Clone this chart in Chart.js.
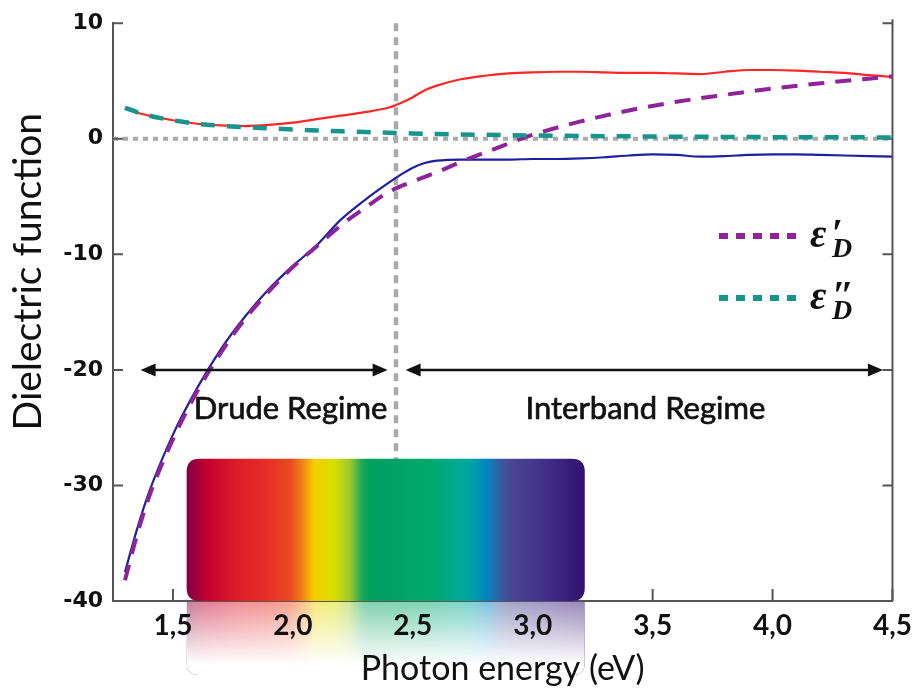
<!DOCTYPE html>
<html>
<head>
<meta charset="utf-8">
<script src="https://cdn.jsdelivr.net/npm/chart.js@4.4.1/dist/chart.umd.min.js"></script>
<style>
  html, body { margin: 0; padding: 0; background: #fff; }
</style>
</head>
<body>
<canvas id="chart" width="920" height="698"></canvas>
<script>
// Measured dielectric function (solid lines)
const energyExp = [1.30, 1.35, 1.40, 1.50, 1.60, 1.70, 1.80, 1.90, 2.00, 2.10, 2.20, 2.30, 2.40, 2.45, 2.50, 2.55, 2.60, 2.70, 2.80, 2.90,
                   3.00, 3.10, 3.20, 3.30, 3.40, 3.50, 3.60, 3.70, 3.80, 3.90, 4.00, 4.10, 4.20, 4.30, 4.40, 4.50];
const eps1Exp = [-37.5, -33.8, -30.6, -25.6, -21.6, -18.2, -15.4, -13.0, -11.0, -9.2, -7.0, -5.3, -3.8, -3.1, -2.5, -2.1, -1.9, -1.8, -1.8, -1.8,
                 -1.75, -1.75, -1.7, -1.6, -1.45, -1.35, -1.4, -1.55, -1.5, -1.4, -1.35, -1.35, -1.4, -1.45, -1.5, -1.55];
const eps2Exp = [2.6, 2.25, 2.0, 1.6, 1.3, 1.15, 1.1, 1.2, 1.4, 1.7, 2.0, 2.3, 2.7, 3.1, 3.6, 4.2, 4.6, 5.15, 5.45, 5.65,
                 5.75, 5.8, 5.8, 5.75, 5.7, 5.7, 5.65, 5.6, 5.8, 5.95, 5.95, 5.9, 5.8, 5.7, 5.5, 5.35];

// Drude model (dashed lines)
const energyDrude = [1.30, 1.35, 1.40, 1.50, 1.60, 1.70, 1.80, 1.90, 2.00, 2.10, 2.20, 2.30, 2.40, 2.50, 2.60, 2.70, 2.80, 2.90,
                     3.00, 3.20, 3.40, 3.60, 3.80, 4.00, 4.20, 4.40, 4.50];
const eps1Drude = [-38.2, -34.3, -31.0, -26.0, -21.9, -18.5, -15.6, -13.2, -11.1, -9.3, -7.5, -6.0, -4.6, -3.7, -2.9, -2.0, -1.2, -0.4,
                   0.35, 1.5, 2.45, 3.2, 3.8, 4.35, 4.8, 5.2, 5.4];
const eps2Drude = [2.7, 2.3, 2.0, 1.6, 1.3, 1.12, 1.0, 0.9, 0.8, 0.72, 0.65, 0.58, 0.52, 0.46, 0.41, 0.37, 0.34, 0.31,
                   0.28, 0.24, 0.21, 0.18, 0.16, 0.14, 0.13, 0.12, 0.11];

const xTicks = [1.5, 2.0, 2.5, 3.0, 3.5, 4.0, 4.5];
const yTicks = [10, 0, -10, -20, -30, -40];

// annotations
const regimeBoundary = 2.43;
const drudeArrow = [1.365, 2.395];
const interbandArrow = [2.47, 4.46];
const arrowLevel = -20;
const regimeNames = ['Drude Regime', 'Interband Regime'];
const regimeNameX = [1.99, 3.47];
const regimeNameY = -23.4;
const spectrumEnergy = [1.557, 3.217];
const spectrumTop = -27.7;
const yTitle = 'Dielectric function';
const yTitleCenter = -11.5;   // the label sits a bit above the axis middle

const AXIS = '#555';
const zip = (xs, ys) => xs.map((x, i) => ({ x: x, y: ys[i] }));

function roundedPath(ctx, x0, y0, x1, y1, r) {
    ctx.beginPath();
    ctx.moveTo(x0 + r, y0);
    ctx.lineTo(x1 - r, y0);
    ctx.quadraticCurveTo(x1, y0, x1, y0 + r);
    ctx.lineTo(x1, y1 - r);
    ctx.quadraticCurveTo(x1, y1, x1 - r, y1);
    ctx.lineTo(x0 + r, y1);
    ctx.quadraticCurveTo(x0, y1, x0, y1 - r);
    ctx.lineTo(x0, y0 + r);
    ctx.quadraticCurveTo(x0, y0, x0 + r, y0);
    ctx.closePath();
}

function spectrumGradient(ctx, x0, x1) {
    const g = ctx.createLinearGradient(x0, 0, x1, 0);
    const stops = [
        [0, '#7e0040'], [0.05, '#c4002f'], [0.125, '#dc1c2a'], [0.2, '#e62e28'], [0.26, '#ea4a20'],
        [0.29, '#f08018'], [0.32, '#f4d000'], [0.37, '#d8de00'], [0.41, '#9cca30'], [0.44, '#20a858'],
        [0.46, '#00a060'], [0.62, '#00a86e'], [0.68, '#00aa90'], [0.72, '#00a0a8'], [0.75, '#0088c0'],
        [0.79, '#3a5aa0'], [0.82, '#4a4490'], [0.9, '#40308a'], [1, '#340f6e']
    ];
    stops.forEach(s => g.addColorStop(s[0], s[1]));
    return g;
}

function arrow(ctx, x0, x1, y) {
    const head = 15, half = 6.5;
    ctx.beginPath();
    ctx.moveTo(x0 + head - 2, y);
    ctx.lineTo(x1 - head + 2, y);
    ctx.stroke();
    ctx.beginPath();
    ctx.moveTo(x0, y); ctx.lineTo(x0 + head, y - half); ctx.lineTo(x0 + head, y + half); ctx.closePath();
    ctx.moveTo(x1, y); ctx.lineTo(x1 - head, y - half); ctx.lineTo(x1 - head, y + half); ctx.closePath();
    ctx.fill();
}

const decor = {
    id: 'decor',
    beforeDraw(chart) {
        // faded reflection of the spectrum below the axis
        const { ctx, scales: { x, y } } = chart;
        const x0 = x.getPixelForValue(spectrumEnergy[0]), x1 = x.getPixelForValue(spectrumEnergy[1]);
        const top = y.getPixelForValue(-40), h = 74;
        ctx.save();
        roundedPath(ctx, x0, top - 14, x1, top + h, 12);
        ctx.clip();
        ctx.fillStyle = spectrumGradient(ctx, x0, x1);
        ctx.fillRect(x0, top, x1 - x0, h);
        const fade = ctx.createLinearGradient(0, top, 0, top + h * 0.85);
        fade.addColorStop(0, 'rgba(255,255,255,0.5)');
        fade.addColorStop(1, 'rgba(255,255,255,1)');
        ctx.fillStyle = fade;
        ctx.fillRect(x0, top, x1 - x0, h);
        ctx.restore();

        // y axis title, drawn by hand so it can sit a little above centre
        ctx.save();
        ctx.translate(28, y.getPixelForValue(yTitleCenter));
        ctx.rotate(-Math.PI / 2);
        ctx.font = '39px Lato';
        ctx.fillStyle = '#111';
        ctx.textAlign = 'center';
        ctx.textBaseline = 'middle';
        ctx.fillText(yTitle, 0, 0);
        ctx.restore();
    },
    beforeDatasetsDraw(chart) {
        const { ctx, chartArea: { left, right, top, bottom }, scales: { x, y } } = chart;
        ctx.save();
        // dotted guides
        ctx.strokeStyle = '#aaaaaa';
        ctx.lineWidth = 4;
        ctx.setLineDash([5, 5]);
        const y0 = y.getPixelForValue(0);
        ctx.beginPath(); ctx.moveTo(left, y0); ctx.lineTo(right, y0); ctx.stroke();
        ctx.lineWidth = 4.5;
        ctx.setLineDash([8, 6]);
        const xb = x.getPixelForValue(regimeBoundary);
        ctx.beginPath(); ctx.moveTo(xb, top); ctx.lineTo(xb, bottom); ctx.stroke();
        ctx.setLineDash([]);
        // right frame and inward ticks
        ctx.strokeStyle = AXIS;
        ctx.lineWidth = 2;
        ctx.beginPath(); ctx.moveTo(right, top - 4); ctx.lineTo(right, bottom); ctx.stroke();
        ctx.beginPath();
        yTicks.forEach(v => {
            const py = y.getPixelForValue(v);
            ctx.moveTo(left, py); ctx.lineTo(left + 10, py);
            ctx.moveTo(right, py); ctx.lineTo(right - 10, py);
        });
        xTicks.forEach(v => {
            const px = x.getPixelForValue(v);
            ctx.moveTo(px, bottom); ctx.lineTo(px, bottom - 12);
        });
        ctx.stroke();
        ctx.restore();
    },
    afterDatasetsDraw(chart) {
        const { ctx, scales: { x, y } } = chart;
        ctx.save();
        // visible spectrum
        const sx0 = x.getPixelForValue(spectrumEnergy[0]), sx1 = x.getPixelForValue(spectrumEnergy[1]);
        const sy0 = y.getPixelForValue(spectrumTop), sy1 = y.getPixelForValue(-40);
        roundedPath(ctx, sx0, sy0, sx1, sy1, 13);
        ctx.fillStyle = spectrumGradient(ctx, sx0, sx1);
        ctx.fill();

        // regime arrows
        ctx.strokeStyle = '#111';
        ctx.fillStyle = '#111';
        ctx.lineWidth = 2.5;
        const ay = y.getPixelForValue(arrowLevel);
        arrow(ctx, x.getPixelForValue(drudeArrow[0]), x.getPixelForValue(drudeArrow[1]), ay);
        arrow(ctx, x.getPixelForValue(interbandArrow[0]), x.getPixelForValue(interbandArrow[1]), ay);

        ctx.font = '31px Lato';
        ctx.textAlign = 'center';
        ctx.textBaseline = 'middle';
        ctx.lineWidth = 0.7;
        regimeNames.forEach((t, i) => {
            const tx = x.getPixelForValue(regimeNameX[i]), ty = y.getPixelForValue(regimeNameY);
            ctx.fillText(t, tx, ty);
            ctx.strokeText(t, tx, ty);
        });

        // legend for the Drude model curves (eps' first)
        const items = chart.data.datasets.filter(d => d.legendMarks).reverse();
        items.forEach((d, i) => {
            const ly = 236 + i * 62;
            ctx.strokeStyle = d.borderColor;
            ctx.lineWidth = 6;
            ctx.setLineDash([9, 8]);
            ctx.beginPath(); ctx.moveTo(719, ly); ctx.lineTo(797, ly); ctx.stroke();
            ctx.setLineDash([]);
            ctx.fillStyle = '#111';
            ctx.textAlign = 'left';
            ctx.textBaseline = 'alphabetic';
            ctx.font = 'italic bold 40px "Liberation Serif", serif';
            ctx.fillText('ε', 810, ly + 11);
            ctx.font = 'bold 40px "Liberation Serif", serif';
            ctx.fillText(d.legendMarks, 832, ly + 10);
            ctx.font = 'italic bold 28px "Liberation Serif", serif';
            ctx.fillText('D', 832, ly + 21);
        });
        ctx.restore();
    }
};

new Chart(document.getElementById('chart'), {
    type: 'line',
    data: {
        datasets: [
            {
                label: "ε''D", legendMarks: '″', data: zip(energyDrude, eps2Drude),
                borderColor: '#17958c', borderWidth: 4.5, borderDash: [14, 12]
            },
            {
                label: "ε'D", legendMarks: '′', data: zip(energyDrude, eps1Drude),
                borderColor: '#8f239a', borderWidth: 4, borderDash: [16, 11]
            },
            { label: "ε''", data: zip(energyExp, eps2Exp), borderColor: '#ff2626', borderWidth: 2.2 },
            { label: "ε'", data: zip(energyExp, eps1Exp), borderColor: '#1f1fa0', borderWidth: 2.2 }
        ]
    },
    options: {
        responsive: false,
        animation: false,
        devicePixelRatio: 1,
        layout: { padding: { top: 21, right: 24, bottom: 0, left: 0 } },
        elements: {
            point: { radius: 0 },
            line: { cubicInterpolationMode: 'monotone', fill: false }
        },
        plugins: { legend: { display: false }, tooltip: { enabled: false } },
        scales: {
            x: {
                type: 'linear',
                min: 1.25,
                max: 4.5,
                afterBuildTicks: s => { s.ticks = xTicks.map(v => ({ value: v })); },
                afterFit: s => { s.height = 97; },
                grid: { display: false, drawTicks: false },
                border: { display: true, color: AXIS, width: 2 },
                ticks: {
                    padding: 8,
                    color: '#111',
                    font: { family: 'Lato', weight: 'bold', size: 28 },
                    callback: v => v.toFixed(1).replace('.', ',')
                },
                title: {
                    display: true,
                    text: 'Photon energy (eV)',
                    color: '#111',
                    font: { family: 'Lato', size: 34 },
                    padding: { top: 0, bottom: 9 }
                }
            },
            y: {
                min: -40,
                max: 10,
                afterBuildTicks: s => { s.ticks = yTicks.map(v => ({ value: v })); },
                afterFit: s => { s.width = 113; },
                grid: { display: false, drawTicks: false },
                border: { display: true, color: AXIS, width: 2 },
                ticks: {
                    padding: 10,
                    color: '#111',
                    font: { family: 'DejaVu Sans', weight: 'bold', size: 22 }
                },
                title: { display: false }
            }
        }
    },
    plugins: [decor]
});
</script>
</body>
</html>
